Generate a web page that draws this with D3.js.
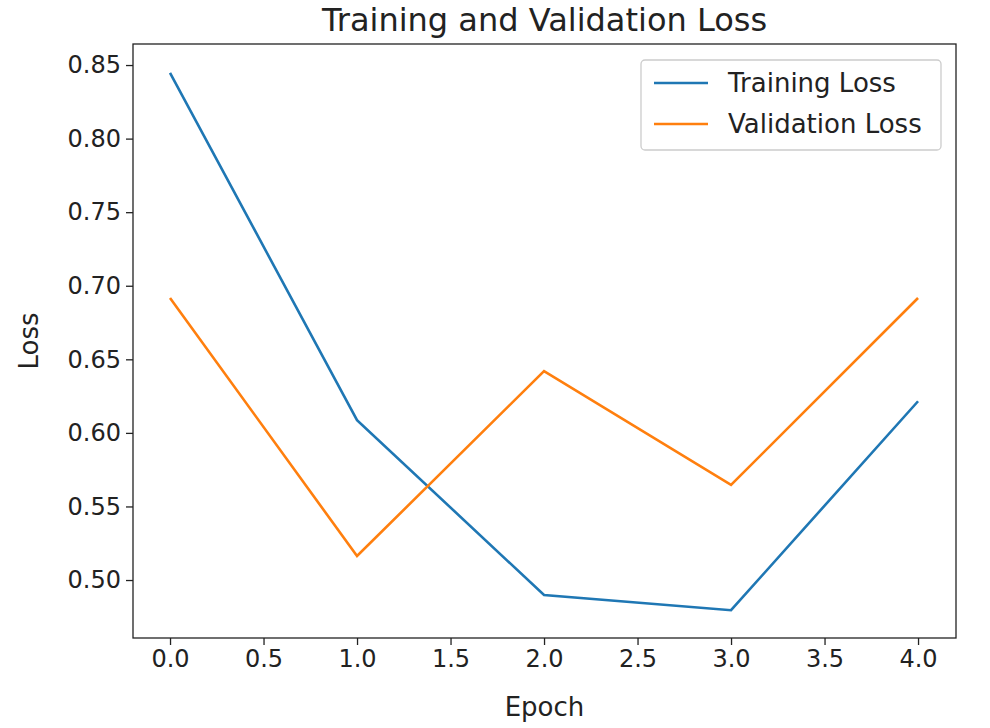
<!DOCTYPE html>
<html><head><meta charset="utf-8">
<script src="https://cdn.jsdelivr.net/npm/d3@7"></script>
<style>body{margin:0;background:#fff}text{font-family:"DejaVu Sans",sans-serif;fill:#222}</style>
</head><body>
<script>
const epochs=[0,1,2,3,4];
const trainingLoss=[0.8446,0.6087,0.4898,0.4795,0.6215];
const validationLoss=[0.6917,0.5163,0.642,0.5646,0.6917];
const xTicks=[0,0.5,1,1.5,2,2.5,3,3.5,4];
const yTicks=[0.50,0.55,0.60,0.65,0.70,0.75,0.80,0.85];
const W=990,H=728,L=133,R=956,T=44,B=638;
const svg=d3.select("body").append("svg").attr("width",W).attr("height",H);
const x=d3.scaleLinear().domain([-0.198,4.203]).range([L,R]);
const y=d3.scaleLinear().domain([0.4606,0.8643]).range([B,T]);
const fs=24;
const xa=svg.append("g").attr("transform",`translate(0,${B})`).call(d3.axisBottom(x).tickValues(xTicks).tickFormat(d3.format(".1f")).tickSize(7).tickPadding(5));
const ya=svg.append("g").attr("transform",`translate(${L},0)`).call(d3.axisLeft(y).tickValues(yTicks).tickFormat(d3.format(".2f")).tickSize(7).tickPadding(5));
[xa,ya].forEach(a=>{a.select(".domain").remove();a.selectAll("text").style("font-size",fs+"px").style("font-family","DejaVu Sans").attr("fill","#222");a.selectAll("line").attr("stroke","#222").attr("stroke-width",1.3);});
svg.append("rect").attr("x",L).attr("y",T).attr("width",R-L).attr("height",B-T).attr("fill","none").attr("stroke","#222").attr("stroke-width",1.3);
const line=d3.line().x((d,i)=>x(epochs[i])).y(d=>y(d));
const series=[["Training Loss",trainingLoss,"#1f77b4"],["Validation Loss",validationLoss,"#ff7f0e"]];
series.forEach(s=>svg.append("path").attr("d",line(s[1])).attr("fill","none").attr("stroke",s[2]).attr("stroke-width",2.6));
svg.append("text").attr("x",(L+R)/2).attr("y",31).attr("text-anchor","middle").style("font-size","32px").text("Training and Validation Loss");
svg.append("text").attr("x",(L+R)/2).attr("y",716).attr("text-anchor","middle").style("font-size","26px").text("Epoch");
svg.append("text").attr("transform",`translate(38,${(T+B)/2}) rotate(-90)`).attr("text-anchor","middle").style("font-size","26px").text("Loss");
const lg=svg.append("g");
lg.append("rect").attr("x",641).attr("y",60).attr("width",300).attr("height",90).attr("rx",4).attr("fill","#fff").attr("stroke","#ccc").attr("stroke-width",1.3);
series.forEach((s,i)=>{const yy=83+i*41;
lg.append("line").attr("x1",654).attr("x2",708).attr("y1",yy).attr("y2",yy).attr("stroke",s[2]).attr("stroke-width",2.6);
lg.append("text").attr("x",728).attr("y",yy+9).style("font-size","26px").text(s[0]);});
</script></body></html>
